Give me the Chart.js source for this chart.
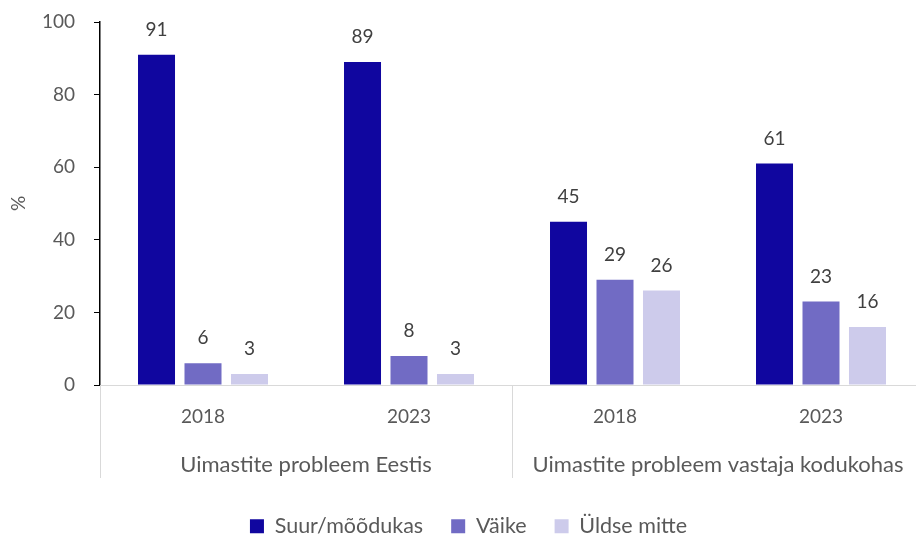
<!DOCTYPE html>
<html>
<head>
<meta charset="utf-8">
<script src="https://cdn.jsdelivr.net/npm/chart.js@4/dist/chart.umd.min.js"></script>
<style>
html,body{margin:0;padding:0;background:#fff;overflow:hidden;}
#wrap{width:916px;height:538px;position:relative;overflow:hidden;}
</style>
</head>
<body>
<div id="wrap"><canvas id="c" width="924" height="547"></canvas></div>
<script>
const categories = ['2018', '2023', '2018', '2023'];
const groups = ['Uimastite probleem Eestis', 'Uimastite probleem vastaja kodukohas'];
const seriesNames = ['Suur/mõõdukas', 'Väike', 'Üldse mitte'];
const suur = [91, 89, 45, 61];
const vaike = [6, 8, 29, 23];
const uldse = [3, 3, 26, 16];
const yTicks = [0, 20, 40, 60, 80, 100];
const colors = ['#10069F', '#716BC4', '#CDCBEB'];

const FONT = 'Lato, "Open Sans", sans-serif';

const labelPlugin = {
  id: 'barLabels',
  afterDatasetsDraw(chart) {
    const ctx = chart.ctx;
    ctx.save();
    ctx.font = '19px ' + FONT;
    ctx.fillStyle = '#404040';
    ctx.textAlign = 'center';
    ctx.textBaseline = 'middle';
    chart.data.datasets.forEach((ds, i) => {
      const meta = chart.getDatasetMeta(i);
      meta.data.forEach((bar, j) => {
        ctx.fillText(String(ds.data[j]), bar.x, bar.y - 25);
      });
    });
    ctx.restore();
  }
};

const groupPlugin = {
  id: 'groupLines',
  afterLayout(chart) {
    if (chart.legend) { chart.legend.left += 6; chart.legend.right += 6; }
  },
  afterDraw(chart) {
    const ctx = chart.ctx;
    const a = chart.chartArea;
    ctx.save();
    ctx.strokeStyle = '#D9D9D9';
    ctx.lineWidth = 1;
    const mid = (a.left + a.right) / 2;
    [a.left, mid].forEach(x => {
      ctx.beginPath();
      ctx.moveTo(Math.round(x) + 0.5, a.bottom);
      ctx.lineTo(Math.round(x) + 0.5, 478);
      ctx.stroke();
    });
    ctx.restore();
  }
};

function noPad(s) { s.paddingTop = 0; s.paddingBottom = 0; s.paddingLeft = 0; s.paddingRight = 0; }

new Chart(document.getElementById('c'), {
  type: 'bar',
  data: {
    labels: categories,
    datasets: [
      { label: seriesNames[0], data: suur, backgroundColor: colors[0] },
      { label: seriesNames[1], data: vaike, backgroundColor: colors[1] },
      { label: seriesNames[2], data: uldse, backgroundColor: colors[2] }
    ]
  },
  options: {
    responsive: false,
    animation: false,
    devicePixelRatio: 1,
    categoryPercentage: 0.677,
    barPercentage: 0.796,
    layout: { padding: { top: 22, right: 0, left: 1, bottom: 0 } },
    plugins: {
      legend: {
        position: 'bottom',
        labels: {
          font: { size: 21.5, family: FONT },
          color: '#595959',
          boxWidth: 14,
          boxHeight: 14,
          padding: 28
        }
      },
      tooltip: { enabled: false }
    },
    scales: {
      x: {
        position: 'bottom',
        grid: { display: false, drawTicks: false },
        border: { color: '#D9D9D9', width: 1 },
        ticks: { font: { size: 19, family: FONT }, color: '#595959', padding: 20 },
        afterFit(s) { s.height = 45; noPad(s); }
      },
      x2: {
        position: 'bottom',
        type: 'category',
        labels: groups,
        offset: true,
        grid: { display: false, drawTicks: false },
        border: { display: false },
        ticks: { font: { size: 22, family: FONT }, color: '#595959', padding: 21.3 },
        afterFit(s) { s.height = 57.5; noPad(s); }
      },
      y: {
        min: 0,
        max: 100,
        afterBuildTicks(s) { s.ticks = yTicks.map(v => ({ value: v })); },
        grid: { display: true, drawOnChartArea: false, drawTicks: true, tickLength: 6, color: '#000' },
        border: { color: '#000', width: 1.5 },
        ticks: { font: { size: 19, family: FONT }, color: '#595959', padding: 19 },
        title: { display: true, text: '%', font: { size: 19, family: FONT }, color: '#595959', padding: { top: 6, bottom: 20 } },
        afterFit(s) { s.width = 99; noPad(s); }
      }
    }
  },
  plugins: [labelPlugin, groupPlugin]
});
</script>
</body>
</html>
